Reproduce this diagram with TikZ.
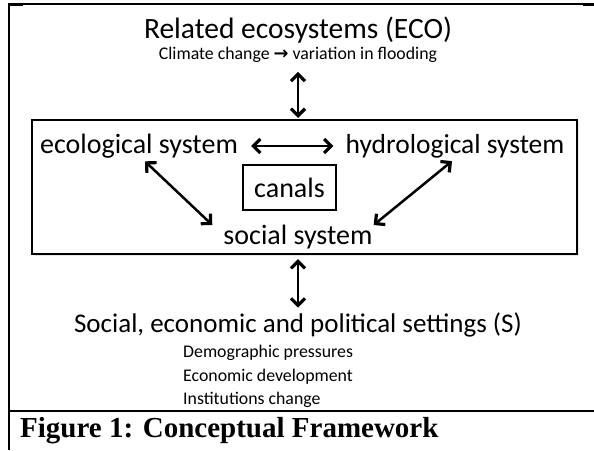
\documentclass[tikz,border=0pt]{standalone}
\usepackage{fontspec}
\setmainfont{Carlito}
\newfontfamily\symfont{DejaVu Sans}
\newfontfamily\capfont{Liberation Serif}
\usetikzlibrary{arrows.meta,calc,shadows}

\begin{document}
\begin{tikzpicture}[x=1pt,y=-1pt,
  tip/.tip={Straight Barb[length=7pt,width=14pt,line width=3.2pt]},
  link/.style={line width=2.5pt, tip-tip},
  big/.style={font=\fontsize{28}{32}\selectfont, inner sep=0pt},
  small/.style={font=\fontsize{17.8}{20}\selectfont, inner sep=0pt},
  rule/.style={line width=1.2pt},
  panel/.style={draw, line width=2pt, fill=white,
    drop shadow={opacity=0.18, shadow xshift=2pt, shadow yshift=-2pt}}
]
\useasboundingbox (0,0) rectangle (594,450);

% table rules around the figure
\draw[rule] (9,450) -- (9,4) -- (594,4);
\draw[line width=3pt] (8,4) -- (23,4);
\draw[line width=3pt] (583,4) -- (594,4);
\draw[rule] (9,411) -- (594,411);

% system box
\node[panel, minimum width=545pt, minimum height=134pt, inner sep=0pt] (sys) at (304.5,187) {};

% labels
\node[big, font=\fontsize{29.5}{32}\selectfont] (eco) at (298,30) {Related ecosystems (ECO)};
\node[small] (clim) at (298,55) {Climate change {\symfont\bfseries →} variation in flooding};
\node[big] (ecol) at (139,146) {ecological system};
\node[big, font=\fontsize{27.5}{32}\selectfont] (hydro) at (455,146) {hydrological system};
\node[big, draw, line width=2pt, minimum width=93pt, minimum height=45pt] (canals) at (289.5,187.5) {canals};
\node[big] (soc) at (298,237) {social system};
\node[big, font=\fontsize{27}{32}\selectfont] (ses) at (298,325) {Social, economic and political settings (S)};
\node[small, anchor=west] (d1) at (183,353) {Demographic pressures};
\node[small, anchor=west] (d2) at (183,377) {Economic development};
\node[small, anchor=west] (d3) at (183,400) {Institutions change};
\node[anchor=west, inner sep=0pt, font=\capfont\bfseries\fontsize{29}{32}\selectfont] (cap) at (20,431) {Figure 1: Conceptual Framework};

% links
\draw[link, shorten <=9pt, shorten >=1pt] (clim.south) -- (clim.south |- sys.north);
\draw[link, shorten <=4pt, shorten >=5pt] (soc.south |- sys.south) -- (ses.north);
\draw[link, shorten <=13pt, shorten >=12pt] (ecol.east) -- (hydro.west);
\draw[link] ($(ecol.south)+(6,3)$) -- ($(soc.west)+(-11,-12)$);
\draw[link] ($(hydro.south)+(-3,3)$) -- ($(soc.east)+(1,-12)$);
\end{tikzpicture}
\end{document}
